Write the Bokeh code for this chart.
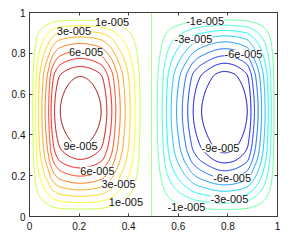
import numpy as np
from bokeh.plotting import figure
from bokeh.models import (LinearAxis, FixedTicker, Range1d, ColumnDataSource,
                          LabelSet, CustomJSTickFormatter)
from bokeh.core.properties import value
from bokeh.embed import file_html
from bokeh.resources import INLINE

# ---------------- data ----------------
# contour levels of the stream function
levels = [k * 1e-5 for k in range(-9, 10)]

# horizontal profile across mid-height: x positions where psi (units 1e-5)
# takes the listed values
prof_x = [0.000, 0.013, 0.025, 0.036, 0.050, 0.063, 0.077, 0.087, 0.101, 0.124,
          0.205,
          0.289, 0.312, 0.332, 0.348, 0.366, 0.386, 0.406, 0.426, 0.446,
          0.492,
          0.515, 0.535, 0.552, 0.571, 0.593, 0.616, 0.638, 0.660, 0.694,
          0.786,
          0.878, 0.893, 0.907, 0.922, 0.936, 0.950, 0.963, 0.975, 0.986, 1.000]
prof_psi = [0, 1, 2, 3, 4, 5, 6, 7, 8, 9,
            10.0,
            9, 8, 7, 6, 5, 4, 3, 2, 1,
            0,
            -1, -2, -3, -4, -5, -6, -7, -8, -9,
            -10.5,
            -9, -8, -7, -6, -5, -4, -3, -2, -1, 0]

# vertical profile through the cell centres (relative strength)
prof_y = [0.000, 0.036, 0.068, 0.099, 0.130, 0.163, 0.198, 0.238, 0.280, 0.345,
          0.515,
          0.686, 0.735, 0.775, 0.812, 0.848, 0.880, 0.908, 0.935, 0.962, 1.000]
prof_rel = [0.0, 0.1, 0.2, 0.3, 0.4, 0.5, 0.6, 0.7, 0.8, 0.9,
            1.0,
            0.9, 0.8, 0.7, 0.6, 0.5, 0.4, 0.3, 0.2, 0.1, 0.0]

# contour labels
label_text = ["1e-005", "3e-005", "6e-005", "9e-005", "6e-005", "3e-005", "1e-005",
              "-1e-005", "-3e-005", "-6e-005", "-9e-005", "-6e-005", "-3e-005", "-1e-005"]
label_x = [0.333, 0.179, 0.228, 0.206, 0.274, 0.359, 0.389,
           0.708, 0.661, 0.863, 0.770, 0.817, 0.806, 0.633]
label_y = [0.951, 0.907, 0.804, 0.348, 0.224, 0.158, 0.070,
           0.957, 0.868, 0.797, 0.335, 0.191, 0.087, 0.049]

ticks = [0, 0.2, 0.4, 0.6, 0.8, 1.0]


# ---------------- field built from the profiles ----------------
def pchip(xk, yk, xq):
    xk = np.asarray(xk, float)
    yk = np.asarray(yk, float)
    h = np.diff(xk)
    dl = np.diff(yk) / h
    n = len(xk)
    d = np.zeros(n)
    for k in range(1, n - 1):
        if dl[k - 1] * dl[k] > 0:
            w1 = 2 * h[k] + h[k - 1]
            w2 = h[k] + 2 * h[k - 1]
            d[k] = (w1 + w2) / (w1 / dl[k - 1] + w2 / dl[k])
    d[0] = dl[0]
    d[-1] = dl[-1]
    i = np.clip(np.searchsorted(xk, xq, side="right") - 1, 0, n - 2)
    t = (xq - xk[i]) / h[i]
    h00 = 2 * t**3 - 3 * t**2 + 1
    h10 = t**3 - 2 * t**2 + t
    h01 = -2 * t**3 + 3 * t**2
    h11 = t**3 - t**2
    return h00 * yk[i] + h10 * h[i] * d[i] + h01 * yk[i + 1] + h11 * h[i] * d[i + 1]


xg = np.linspace(0.002, 0.998, 250)
yg = np.linspace(0.002, 0.998, 250)
P = pchip(prof_x, prof_psi, xg) * 1e-5
Q = pchip(prof_y, prof_rel, yg)
Z = Q[:, None] * P[None, :]


def jet(t):
    r = np.clip(1.5 - abs(4 * t - 3), 0, 1)
    g = np.clip(1.5 - abs(4 * t - 2), 0, 1)
    b = np.clip(1.5 - abs(4 * t - 1), 0, 1)
    return "#%02x%02x%02x" % (int(round(r * 255)), int(round(g * 255)), int(round(b * 255)))


cmin, cmax = -1.04e-4, 0.96e-4
colors = [jet((lv - cmin) / (cmax - cmin)) for lv in levels]

# ---------------- figure ----------------
FONT = "Liberation Sans"
AX = "#3c3c3c"

p = figure(frame_width=248, frame_height=204,
           x_range=Range1d(0, 1), y_range=Range1d(0, 1),
           output_backend="svg", toolbar_location=None,
           min_border_left=29, min_border_right=8,
           min_border_top=12, min_border_bottom=22)
p.xgrid.visible = False
p.ygrid.visible = False
p.outline_line_color = AX
p.outline_line_width = 1
p.background_fill_color = "white"
p.border_fill_color = "white"

p.contour(x=xg, y=yg, z=Z, levels=levels, line_color=colors,
          line_width=1, fill_color=None)

for ax in (p.xaxis[0], p.yaxis[0]):
    ax.ticker = FixedTicker(ticks=ticks)
    ax.axis_line_color = None
    ax.major_tick_line_color = AX
    ax.major_tick_in = 3
    ax.major_tick_out = 0
    ax.minor_tick_line_color = None
    ax.major_label_text_font = FONT
    ax.major_label_text_font_size = "10px"
    ax.major_label_text_color = "#111111"
p.yaxis[0].major_label_standoff = 4
p.xaxis[0].major_label_standoff = 5

for loc in ("above", "right"):
    ax = LinearAxis(ticker=FixedTicker(ticks=ticks),
                    formatter=CustomJSTickFormatter(code="return ''"))
    ax.axis_line_color = None
    ax.major_tick_line_color = AX
    ax.major_tick_in = 3
    ax.major_tick_out = 0
    ax.minor_tick_line_color = None
    ax.major_label_standoff = 0
    ax.major_label_text_font_size = "0px"
    p.add_layout(ax, loc)

src = ColumnDataSource(dict(x=label_x, y=label_y, text=label_text))
labels = LabelSet(x="x", y="y", text="text", source=src,
                  text_align="center", text_baseline="middle",
                  text_font=value(FONT), text_font_size="11px",
                  text_color="#111111",
                  background_fill_color="white")
p.add_layout(labels)

open("out.html", "w").write(file_html(p, INLINE))
